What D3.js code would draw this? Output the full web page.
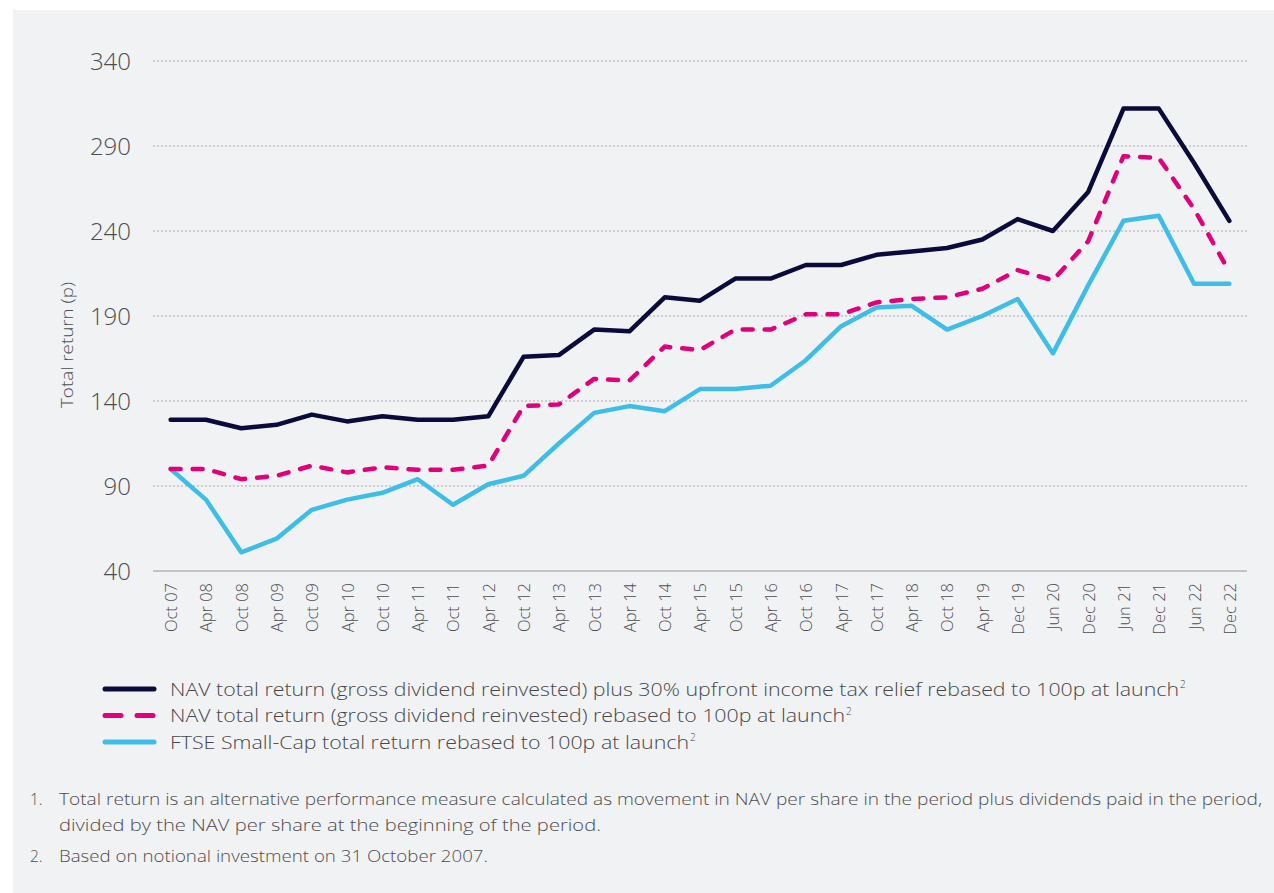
<!DOCTYPE html>
<html>
<head>
<meta charset="utf-8">
<script src="https://cdn.jsdelivr.net/npm/d3@7/dist/d3.min.js"></script>
<style>
  html, body { margin: 0; padding: 0; background: #ffffff; }
  svg { display: block; }
  text { font-family: "Open Sans", "Noto Sans", "DejaVu Sans", sans-serif; font-weight: 300; }
</style>
</head>
<body>
<svg id="chart" width="1274" height="893"></svg>
<script>
// Period labels (half-yearly, then Dec/Jun from late 2019)
const periods = [
  "Oct 07","Apr 08","Oct 08","Apr 09","Oct 09","Apr 10","Oct 10","Apr 11",
  "Oct 11","Apr 12","Oct 12","Apr 13","Oct 13","Apr 14","Oct 14","Apr 15",
  "Oct 15","Apr 16","Oct 16","Apr 17","Oct 17","Apr 18","Oct 18","Apr 19",
  "Dec 19","Jun 20","Dec 20","Jun 21","Dec 21","Jun 22","Dec 22"
];

// NAV total return plus 30% upfront income tax relief (p)
const navPlusRelief = [
  129, 129, 124, 126, 132, 128, 131, 129, 129, 131,
  166, 167, 182, 181, 201, 199, 212, 212, 220, 220,
  226, 228, 230, 235, 247, 240, 263, 312, 312, 280, 246
];

// NAV total return, gross dividends reinvested (p)
const navTotal = [
  100, 100, 94, 96, 102, 98, 101, 99.5, 99.5, 102,
  137, 138, 153, 152, 172, 170, 182, 182, 191, 191,
  198, 200, 201, 206, 217, 211, 234, 284, 283, 253, 216
];

// FTSE Small-Cap total return (p)
const ftseSmallCap = [
  100, 82, 51, 59, 76, 82, 86, 94, 79, 91,
  96, 115, 133, 137, 134, 147, 147, 149, 164, 184,
  195, 196, 182, 190, 200, 168, 208, 246, 249, 209, 209
];

const yTicks = [40, 90, 140, 190, 240, 290, 340];

const legendLabels = [
  "NAV total return (gross dividend reinvested) plus 30% upfront income tax relief rebased to 100p at launch",
  "NAV total return (gross dividend reinvested) rebased to 100p at launch",
  "FTSE Small-Cap total return rebased to 100p at launch"
];

const footnotes = [
  ["1.", "Total return is an alternative performance measure calculated as movement in NAV per share in the period plus dividends paid in the period,"],
  ["",   "divided by the NAV per share at the beginning of the period."],
  ["2.", "Based on notional investment on 31 October 2007."]
];

const colors = { navy: "#0b0a3c", pink: "#e2007a", cyan: "#3ebde9" };
const textColor = "#4d4d50";

const svg = d3.select("#chart");

// panel background
svg.append("rect")
  .attr("x", 13).attr("y", 10)
  .attr("width", 1274 - 13).attr("height", 893 - 10)
  .attr("fill", "#f1f2f4");

const plot = { left: 153, right: 1247, top: 61, bottom: 571 };

const x = d3.scalePoint()
  .domain(periods)
  .range([plot.left, plot.right])
  .padding(0.5);

const y = d3.scaleLinear()
  .domain([40, 340])
  .range([plot.bottom, plot.top]);

// horizontal dotted grid
svg.append("g")
  .selectAll("line")
  .data(yTicks.filter(d => d !== 40))
  .join("line")
  .attr("x1", plot.left).attr("x2", plot.right)
  .attr("y1", d => y(d)).attr("y2", d => y(d))
  .attr("stroke", "#a9a9ab")
  .attr("stroke-width", 1)
  .attr("stroke-dasharray", "2,2");

// y axis labels
const yAxis = d3.axisLeft(y).tickValues(yTicks).tickSize(0).tickPadding(0);
const gy = svg.append("g")
  .attr("transform", `translate(131,0)`)
  .call(yAxis);
gy.select(".domain").remove();
gy.selectAll("text")
  .attr("font-family", "'Open Sans', 'Noto Sans', sans-serif")
  .attr("font-size", 24)
  .attr("font-weight", 300)
  .attr("fill", textColor)
  .attr("dy", "0.36em");

// y axis title
svg.append("text")
  .attr("transform", `translate(73,345) rotate(-90)`)
  .attr("text-anchor", "middle")
  .attr("font-size", 17)
  .attr("fill", textColor)
  .attr("textLength", 126)
  .attr("lengthAdjust", "spacingAndGlyphs")
  .text("Total return (p)");

// x baseline
svg.append("line")
  .attr("x1", plot.left).attr("x2", plot.right)
  .attr("y1", plot.bottom).attr("y2", plot.bottom)
  .attr("stroke", "#b3b3b5")
  .attr("stroke-width", 1.5);

// x axis labels, rotated
const xAxis = d3.axisBottom(x).tickSize(0).tickPadding(0);
const gx = svg.append("g")
  .attr("transform", `translate(0,${plot.bottom})`)
  .call(xAxis);
gx.select(".domain").remove();
gx.selectAll("text")
  .attr("font-family", "'Open Sans', 'Noto Sans', sans-serif")
  .attr("font-size", 16.5)
  .attr("font-weight", 300)
  .attr("fill", textColor)
  .attr("text-anchor", "end")
  .attr("transform", "translate(0,12) rotate(-90)")
  .attr("x", 0)
  .attr("y", 0)
  .attr("dy", "0.36em");

// series lines
const line = d3.line()
  .x((d, i) => x(periods[i]))
  .y(d => y(d));

const series = [
  { values: ftseSmallCap, color: colors.cyan, dash: null },
  { values: navTotal, color: colors.pink, dash: "10,12" },
  { values: navPlusRelief, color: colors.navy, dash: null }
];

svg.append("g")
  .selectAll("path")
  .data(series)
  .join("path")
  .attr("d", d => line(d.values))
  .attr("fill", "none")
  .attr("stroke", d => d.color)
  .attr("stroke-width", 4.5)
  .attr("stroke-linejoin", "round")
  .attr("stroke-linecap", "round")
  .attr("stroke-dasharray", d => d.dash);

// legend
const legendItems = [
  { label: legendLabels[0], color: colors.navy, dash: null, width: 1017 },
  { label: legendLabels[1], color: colors.pink, dash: "16,16", width: 683 },
  { label: legendLabels[2], color: colors.cyan, dash: null, width: 527 }
];
const lg = svg.append("g");
legendItems.forEach((d, i) => {
  const cy = 689 + i * 26.5;
  lg.append("line")
    .attr("x1", 105).attr("x2", 154)
    .attr("y1", cy).attr("y2", cy)
    .attr("stroke", d.color)
    .attr("stroke-width", 5)
    .attr("stroke-linecap", "round")
    .attr("stroke-dasharray", d.dash);
  lg.append("text")
    .attr("x", 170).attr("y", cy + 6.5)
    .attr("font-size", 18)
    .attr("fill", "#47474a")
    .attr("textLength", d.width - 8)
    .attr("lengthAdjust", "spacingAndGlyphs")
    .text(d.label);
  lg.append("text")
    .attr("x", 170 + d.width - 7).attr("y", cy - 1)
    .attr("font-size", 10)
    .attr("fill", "#47474a")
    .text("2");
});

// footnotes
const fn = svg.append("g");
const fnY = [805, 831, 862];
const fnWidth = [1203, 542, 429];
footnotes.forEach((d, i) => {
  if (d[0]) {
    fn.append("text")
      .attr("x", 30).attr("y", fnY[i])
      .attr("font-size", 15.5)
      .attr("fill", textColor)
      .text(d[0]);
  }
  fn.append("text")
    .attr("x", 59).attr("y", fnY[i])
    .attr("font-size", 15.5)
    .attr("fill", textColor)
    .attr("textLength", fnWidth[i])
    .attr("lengthAdjust", "spacingAndGlyphs")
    .text(d[1]);
});
</script>
</body>
</html>
